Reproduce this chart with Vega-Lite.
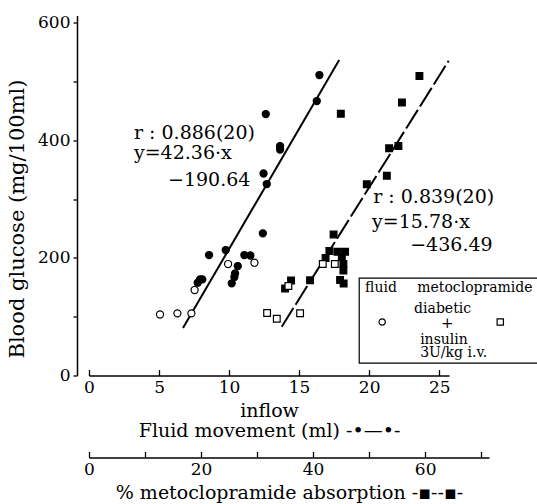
{
  "$schema": "https://vega.github.io/schema/vega-lite/v6.json",
  "width": 400,
  "height": 360,
  "autosize": {"type": "none"},
  "padding": {"left": 89, "top": 15.5, "right": 48, "bottom": 128.5},
  "background": "white",
  "config": {
    "view": {"stroke": null},
    "font": "DejaVu Serif",
    "axis": {"labelFont": "DejaVu Serif", "titleFont": "DejaVu Serif", "labelColor": "black", "titleColor": "black", "domainColor": "black", "tickColor": "black", "grid": false, "titleFontWeight": "normal", "labelFontSize": 17, "titleFontSize": 19, "domainWidth": 1.5, "tickWidth": 1.3}
  },
  "datasets": {
    "circles": [
      {"fluid": 16.45, "bg": 510.8, "kind": "filled"},
      {"fluid": 16.26, "bg": 466.6, "kind": "filled"},
      {"fluid": 12.62, "bg": 444.5, "kind": "filled"},
      {"fluid": 13.64, "bg": 390.1, "kind": "filled"},
      {"fluid": 13.64, "bg": 384.2, "kind": "filled"},
      {"fluid": 12.46, "bg": 343.4, "kind": "filled"},
      {"fluid": 12.69, "bg": 325.5, "kind": "filled"},
      {"fluid": 12.41, "bg": 241.7, "kind": "filled"},
      {"fluid": 9.76, "bg": 213.3, "kind": "filled"},
      {"fluid": 8.57, "bg": 204.8, "kind": "filled"},
      {"fluid": 11.09, "bg": 204.8, "kind": "filled"},
      {"fluid": 11.52, "bg": 204.0, "kind": "filled"},
      {"fluid": 10.62, "bg": 186.1, "kind": "filled"},
      {"fluid": 10.43, "bg": 173.7, "kind": "filled"},
      {"fluid": 10.38, "bg": 167.4, "kind": "filled"},
      {"fluid": 10.19, "bg": 156.7, "kind": "filled"},
      {"fluid": 7.93, "bg": 163.5, "kind": "filled"},
      {"fluid": 7.76, "bg": 157.7, "kind": "filled"},
      {"fluid": 8.09, "bg": 163.5, "kind": "filled"},
      {"fluid": 5.07, "bg": 103.7, "kind": "open"},
      {"fluid": 6.31, "bg": 105.7, "kind": "open"},
      {"fluid": 7.31, "bg": 105.7, "kind": "open"},
      {"fluid": 7.54, "bg": 145.3, "kind": "open"},
      {"fluid": 9.93, "bg": 189.5, "kind": "open"},
      {"fluid": 11.81, "bg": 191.7, "kind": "open"}
    ],
    "squares": [
      {"pct": 58.98, "bg": 509.1, "kind": "filled"},
      {"pct": 55.86, "bg": 464.1, "kind": "filled"},
      {"pct": 44.95, "bg": 445.0, "kind": "filled"},
      {"pct": 53.16, "bg": 339.6, "kind": "filled"},
      {"pct": 49.59, "bg": 325.0, "kind": "filled"},
      {"pct": 53.57, "bg": 386.2, "kind": "filled"},
      {"pct": 55.23, "bg": 390.1, "kind": "filled"},
      {"pct": 43.66, "bg": 239.7, "kind": "filled"},
      {"pct": 42.91, "bg": 211.6, "kind": "filled"},
      {"pct": 42.23, "bg": 199.7, "kind": "filled"},
      {"pct": 44.34, "bg": 210.4, "kind": "filled"},
      {"pct": 45.71, "bg": 210.4, "kind": "filled"},
      {"pct": 45.13, "bg": 201.4, "kind": "filled"},
      {"pct": 45.41, "bg": 189.5, "kind": "filled"},
      {"pct": 45.41, "bg": 178.5, "kind": "filled"},
      {"pct": 44.82, "bg": 162.3, "kind": "filled"},
      {"pct": 45.45, "bg": 156.4, "kind": "filled"},
      {"pct": 39.46, "bg": 161.8, "kind": "filled"},
      {"pct": 36.07, "bg": 161.5, "kind": "filled"},
      {"pct": 35.0, "bg": 147.9, "kind": "filled"},
      {"pct": 31.79, "bg": 106.2, "kind": "open"},
      {"pct": 33.52, "bg": 96.5, "kind": "open"},
      {"pct": 37.68, "bg": 105.7, "kind": "open"},
      {"pct": 35.59, "bg": 152.1, "kind": "open"},
      {"pct": 41.73, "bg": 189.5, "kind": "open"},
      {"pct": 43.88, "bg": 189.5, "kind": "open"}
    ],
    "fitFluid": [{"fluid": 6.71, "bg": 80.7}, {"fluid": 17.86, "bg": 536.3}],
    "fitPct": [{"pct": 34.4, "bg": 83.0}, {"pct": 64.2, "bg": 535.0}],
    "notes": [
      {"fluid": 3.21, "bg": 412.2, "label": "r : 0.886(20)"},
      {"fluid": 3.21, "bg": 378.2, "label": "y=42.36·x"},
      {"fluid": 5.64, "bg": 332.3, "label": "−190.64"},
      {"fluid": 20.29, "bg": 303.4, "label": "r : 0.839(20)"},
      {"fluid": 20.21, "bg": 260.9, "label": "y=15.78·x"},
      {"fluid": 22.93, "bg": 221.8, "label": "−436.49"}
    ],
    "box": [{"fluid": 19.29, "fluid2": 33.6, "bg": 165.7, "bg2": 21.2}],
    "legendText": [
      {"fluid": 19.71, "bg": 148.7, "label": "fluid"},
      {"fluid": 23.43, "bg": 148.7, "label": "metoclopramide"},
      {"fluid": 23.21, "bg": 113.5, "label": "diabetic"},
      {"fluid": 23.64, "bg": 60.5, "label": "insulin"},
      {"fluid": 23.64, "bg": 38.5, "label": "3U/kg i.v."}
    ],
    "legendPlus": [{"fluid": 25.57, "bg": 89.5, "label": "+"}],
    "legendPts": [
      {"fluid": 20.93, "bg": 90.9, "shape": "circle"},
      {"fluid": 29.36, "bg": 90.9, "shape": "square"}
    ]
  },
  "resolve": {"scale": {"x": "independent"}, "axis": {"x": "independent"}},
  "layer": [
    {
      "encoding": {
        "x": {"field": "fluid", "type": "quantitative", "scale": {"domain": [0, 25.7], "range": [0, 360], "nice": false, "zero": false},
          "axis": {"orient": "bottom", "values": [0, 5, 10, 15, 20, 25], "tickSize": -6, "labelPadding": 10, "title": ["inflow", "Fluid movement (ml) -•—•-"], "titlePadding": 6, "titleLineHeight": 20, "labelFlush": false}},
        "y": {"field": "bg", "type": "quantitative", "scale": {"domain": [0, 612], "nice": false},
          "axis": {"values": [0, 100, 200, 300, 400, 500, 600], "labelExpr": "datum.value % 200 === 0 ? datum.label : ''", "offset": 12, "tickSize": 4, "labelPadding": 3, "title": "Blood glucose (mg/100ml)", "titleFontSize": 21, "titleX": -50, "titleY": 203}}
      },
      "layer": [
        {"data": {"name": "box"}, "mark": {"type": "rect", "fill": "white", "stroke": "black", "strokeWidth": 1.2}, "encoding": {"x2": {"field": "fluid2"}, "y2": {"field": "bg2"}}},
        {"data": {"name": "fitFluid"}, "mark": {"type": "line", "color": "black", "strokeWidth": 2}, "encoding": {}},
        {"data": {"name": "circles"}, "mark": {"type": "point", "shape": "circle", "size": 50, "filled": true, "stroke": "black", "strokeWidth": 1.2, "opacity": 1},
          "encoding": {"fill": {"field": "kind", "type": "nominal", "scale": {"domain": ["filled", "open"], "range": ["black", "white"]}, "legend": null}}},
        {"data": {"name": "notes"}, "mark": {"type": "text", "align": "left", "baseline": "middle", "fontSize": 19, "color": "black"}, "encoding": {"text": {"field": "label"}}},
        {"data": {"name": "legendText"}, "mark": {"type": "text", "align": "left", "baseline": "middle", "fontSize": 14, "color": "black"}, "encoding": {"text": {"field": "label"}}},
        {"data": {"name": "legendPlus"}, "mark": {"type": "text", "align": "center", "baseline": "middle", "fontSize": 15, "color": "black"}, "encoding": {"text": {"field": "label"}}},
        {"data": {"name": "legendPts"}, "mark": {"type": "point", "size": 40, "filled": false, "color": "black", "strokeWidth": 1.2, "opacity": 1},
          "encoding": {"shape": {"field": "shape", "type": "nominal", "scale": {"domain": ["circle", "square"], "range": ["circle", "square"]}, "legend": null}}}
      ]
    },
    {
      "encoding": {
        "x": {"field": "pct", "type": "quantitative", "scale": {"domain": [0, 71.4], "nice": false, "zero": false},
          "axis": {"orient": "bottom", "offset": 82, "values": [0, 10, 20, 30, 40, 50, 60, 70], "labelExpr": "datum.value % 20 === 0 ? datum.label : ''", "tickSize": -6, "labelPadding": 10, "title": "% metoclopramide absorption -▪--▪-", "titlePadding": 6, "labelFlush": false}},
        "y": {"field": "bg", "type": "quantitative", "scale": {"domain": [0, 612], "nice": false},
          "axis": {"values": [0, 100, 200, 300, 400, 500, 600], "labelExpr": "datum.value % 200 === 0 ? datum.label : ''", "offset": 12, "tickSize": 4, "labelPadding": 3, "title": "Blood glucose (mg/100ml)", "titleFontSize": 21, "titleX": -50, "titleY": 203}}
      },
      "layer": [
        {"data": {"name": "fitPct"}, "mark": {"type": "line", "color": "black", "strokeWidth": 2, "strokeDash": [22, 4]}, "encoding": {}},
        {"data": {"name": "squares"}, "mark": {"type": "point", "shape": "square", "size": 45, "filled": true, "stroke": "black", "strokeWidth": 1.2, "opacity": 1},
          "encoding": {"fill": {"field": "kind", "type": "nominal", "scale": {"domain": ["filled", "open"], "range": ["black", "white"]}, "legend": null}}}
      ]
    }
  ]
}
